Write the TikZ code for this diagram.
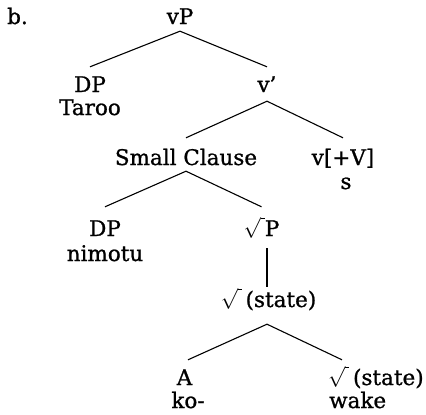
\documentclass[tikz,border=0pt]{standalone}
\usepackage{fontspec}
\setmainfont{DejaVu Serif}[FakeBold=1]
\usetikzlibrary{positioning}
\newcommand{\rt}{$\sqrt{\vphantom{P}\kern4pt}$}

\begin{document}
\begin{tikzpicture}[x=1pt, y=-1pt,
  every node/.style={font=\fontsize{21.5}{24}\selectfont},
  cat/.style={inner sep=0pt, text height=16pt, text depth=0pt, anchor=base},
  word/.style={inner sep=0pt, anchor=base},
  branch/.style={line width=1.1pt}]
\useasboundingbox (0,0) rectangle (426,415);

% labels
\node[cat, anchor=base west] (tag) at (7,24) {b.};
\node[cat] (vP) at (180,24) {vP};
\node[cat] (dpA) at (90,92) {DP};
\node[word] (taroo) at (90,115) {Taroo};
\node[cat] (vbar) at (267,92) {v’};
\node[cat] (sc) at (186,165) {Small Clause};
\node[cat] (vV) at (343,165) {v[+V]};
\node[word] (sWord) at (346,189) {s};
\node[cat] (dpB) at (105,236) {DP};
\node[word] (nimotu) at (105,261) {nimotu};
\node[cat] (rootP) at (261.5,236) {\rt P};
\node[cat] (rootS) at (268.5,307) {\rt\,(state)};
\node[cat] (aHead) at (184.5,385) {A};
\node[word] (ko) at (188,408) {ko-};
\node[cat, anchor=base west] (rootB) at (328,385) {\rt\,(state)};
\node[word, anchor=base west] (wake) at (329,408) {wake};

% branches
\draw[branch] ([yshift=-7pt]vP.south) -- ([yshift=9pt]dpA.north);
\draw[branch] ([yshift=-7pt]vP.south) -- ([yshift=9pt]vbar.north);
\draw[branch] ([yshift=-9pt]vbar.south) -- ([yshift=11pt]sc.north);
\draw[branch] ([yshift=-9pt]vbar.south) -- ([yshift=11pt]vV.north);
\draw[branch] ([yshift=-6pt]sc.south) -- ([yshift=13pt]dpB.north);
\draw[branch] ([yshift=-6pt]sc.south) -- ([yshift=13pt]rootP.north);
\draw[branch] ([xshift=5.5pt,yshift=-12pt]rootP.south) -- ([xshift=-1.5pt,yshift=4pt]rootS.north);
\draw[branch] ([xshift=-1.5pt,yshift=-17pt]rootS.south) -- ([xshift=3.5pt,yshift=9pt]aHead.north);
\draw[branch] ([xshift=-1.5pt,yshift=-17pt]rootS.south) -- ([shift={(14pt,9pt)}]rootB.north west);
\end{tikzpicture}
\end{document}
